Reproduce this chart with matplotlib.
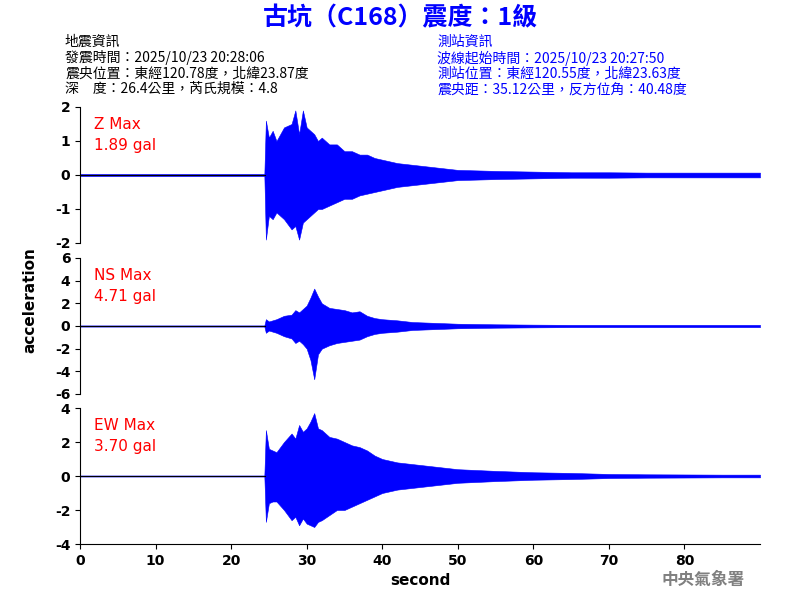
import matplotlib
matplotlib.use("Agg")
import matplotlib.pyplot as plt

plt.rcParams['font.family'] = ['Noto Sans CJK TC', 'DejaVu Sans']

# envelope of each trace (seconds, upper, lower)
t = [0, 24.4, 24.6, 25, 25.5, 26, 27, 28, 28.5, 29, 29.5, 30, 30.5, 31, 31.5, 32, 33, 34, 35,
     36, 37, 38, 39, 40, 42, 44, 46, 48, 50, 55, 60, 65, 70, 75, 80, 85, 90]
z_up = [0.03, 0.03, 1.6, 1.1, 1.3, 1.0, 1.4, 1.5, 1.9, 1.2, 1.9, 1.4, 1.3, 1.2, 1.0, 1.1, 0.9, 0.9,
        0.7, 0.7, 0.6, 0.6, 0.5, 0.45, 0.35, 0.3, 0.25, 0.2, 0.15, 0.12, 0.1, 0.08, 0.08, 0.07, 0.07, 0.07, 0.07]
z_lo = [-0.03, -0.03, -1.9, -1.2, -1.3, -1.1, -1.3, -1.6, -1.5, -1.9, -1.4, -1.3, -1.2, -1.1, -1.0, -1.0, -0.9, -0.8,
        -0.7, -0.7, -0.6, -0.55, -0.5, -0.45, -0.35, -0.3, -0.25, -0.2, -0.15, -0.12, -0.1, -0.08, -0.08, -0.07, -0.07, -0.07, -0.07]
ns_up = [0.05, 0.05, 0.6, 0.4, 0.5, 0.6, 0.9, 1.0, 1.4, 1.2, 1.5, 1.8, 2.5, 3.3, 2.6, 2.0, 1.6, 1.5,
         1.4, 1.2, 1.3, 0.9, 0.7, 0.6, 0.5, 0.35, 0.3, 0.25, 0.2, 0.15, 0.12, 0.1, 0.1, 0.1, 0.1, 0.1, 0.1]
ns_lo = [-0.05, -0.05, -0.6, -0.4, -0.5, -0.6, -0.9, -1.1, -1.5, -1.3, -1.6, -2.0, -3.0, -4.7, -2.5, -2.0, -1.7, -1.5,
         -1.4, -1.3, -1.2, -0.9, -0.7, -0.6, -0.5, -0.35, -0.3, -0.25, -0.2, -0.15, -0.12, -0.1, -0.1, -0.1, -0.1, -0.1, -0.1]
ew_up = [0.03, 0.03, 2.7, 1.6, 1.5, 1.4, 2.0, 2.5, 2.2, 3.0, 2.6, 2.8, 3.2, 3.7, 2.8, 2.7, 2.3, 2.2,
         2.0, 1.8, 1.7, 1.5, 1.2, 1.0, 0.8, 0.7, 0.6, 0.5, 0.4, 0.3, 0.22, 0.18, 0.12, 0.1, 0.09, 0.08, 0.08]
ew_lo = [-0.03, -0.03, -2.7, -1.6, -1.5, -1.5, -2.0, -2.6, -2.4, -2.9, -2.5, -2.8, -2.9, -3.0, -2.7, -2.6, -2.3, -2.0,
         -2.0, -1.8, -1.6, -1.4, -1.2, -1.0, -0.8, -0.7, -0.6, -0.5, -0.4, -0.3, -0.22, -0.18, -0.12, -0.1, -0.09, -0.08, -0.08]

panels = [("Z Max\n1.89 gal", z_up, z_lo, 2, [-2, -1, 0, 1, 2]),
          ("NS Max\n4.71 gal", ns_up, ns_lo, 6, [-6, -4, -2, 0, 2, 4, 6]),
          ("EW Max\n3.70 gal", ew_up, ew_lo, 4, [-4, -2, 0, 2, 4])]

fig = plt.figure(figsize=(8, 6), dpi=100)
tops = [107, 258, 408]
for (label, up, lo, lim, ticks), top in zip(panels, tops):
    ax = fig.add_axes([80 / 800, 1 - (top + 136) / 600, 680 / 800, 136 / 600])
    ax.fill_between(t, lo, up, color='blue', linewidth=0.4)
    ax.plot([0, 24.5], [0, 0], color='black', lw=0.8)
    ax.set_xlim(0, 90)
    ax.set_ylim(-lim, lim)
    ax.set_yticks(ticks)
    ax.set_yticklabels([str(v) for v in ticks], family='DejaVu Sans', weight='bold')
    for s in ['top', 'right']:
        ax.spines[s].set_visible(False)
    ax.text(0.02, 0.93, label, transform=ax.transAxes, color='red', fontsize=11,
            va='top', family='DejaVu Sans', linespacing=1.5)
    if top != tops[-1]:
        ax.spines['bottom'].set_visible(False)
        ax.set_xticks([])
    else:
        ax.set_xticks(range(0, 90, 10))
        ax.set_xticklabels([str(v) for v in range(0, 90, 10)], family='DejaVu Sans', weight='bold')
        ax.set_xlabel("second", fontsize=11, family='DejaVu Sans', weight='bold')

fig.text(30 / 800, 0.5, "acceleration", rotation=90, va='center', ha='center', fontsize=11,
         family='DejaVu Sans', weight='bold')
fig.text(0.5, 1 - 18 / 600, "古坑（C168）震度：1級", color='blue', fontsize=18, weight='bold',
         ha='center', va='center')
left = "地震資訊\n發震時間：2025/10/23 20:28:06\n震央位置：東經120.78度，北緯23.87度\n深　度：26.4公里，芮氏規模：4.8"
right = "測站資訊\n波線起始時間：2025/10/23 20:27:50\n測站位置：東經120.55度，北緯23.63度\n震央距：35.12公里，反方位角：40.48度"
fig.text(65 / 800, 1 - 35 / 600, left, fontsize=10, va='top', linespacing=1.12)
fig.text(437 / 800, 1 - 35 / 600, right, fontsize=10, va='top', color='blue', linespacing=1.12)
fig.text(745 / 800, 1 - 580 / 600, "中央氣象署", fontsize=12, color='gray', ha='right',
         va='center', weight='bold')
fig.savefig("out.png", dpi=100)
